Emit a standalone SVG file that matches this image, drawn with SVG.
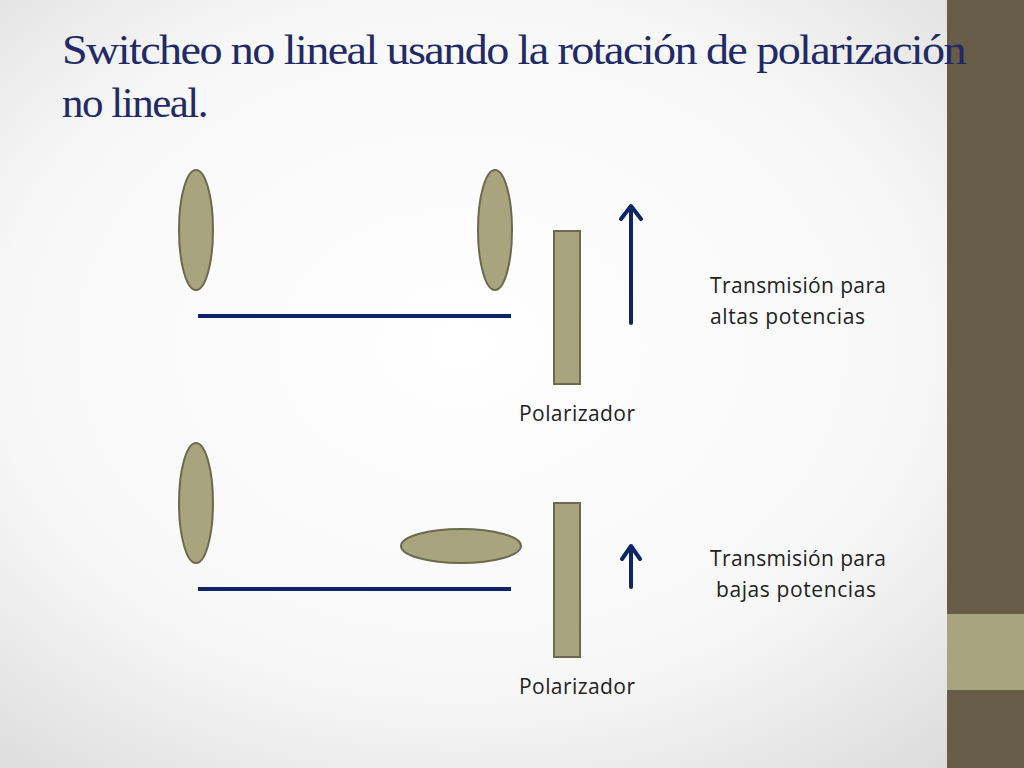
<svg xmlns="http://www.w3.org/2000/svg" width="1024" height="768" viewBox="0 0 1024 768">
<defs>
<radialGradient id="bg" cx="45%" cy="45%" r="75%">
<stop offset="0" stop-color="#ffffff"/><stop offset="0.6" stop-color="#f7f7f7"/><stop offset="1" stop-color="#d9d9d9"/>
</radialGradient>
<style>
.el{fill:#a8a57e;stroke:#6b6a4f;stroke-width:2}
.ln{stroke:#0f2466;stroke-width:4;fill:none}
.ar{stroke:#0f2466;stroke-width:4;fill:none;stroke-linecap:round;stroke-linejoin:round}
.t{font-family:"Open Sans","Liberation Sans",sans-serif;font-size:21px;fill:#222}
.title{font-family:"Liberation Serif",serif;font-size:43px;fill:#1f2a66;letter-spacing:-1.5px}
</style>
</defs>
<rect width="1024" height="768" fill="url(#bg)"/>
<rect x="947" y="0" width="77" height="768" fill="#665c47"/>
<rect x="947" y="614" width="77" height="76" fill="#a8a57e"/>
<text class="title" x="62" y="64" textLength="903" lengthAdjust="spacingAndGlyphs">Switcheo no lineal usando la rotación de polarización</text>
<text class="title" x="62" y="117">no lineal.</text>
<g id="top">
<ellipse class="el" cx="196" cy="230" rx="17" ry="60"/>
<ellipse class="el" cx="495" cy="230" rx="17" ry="60"/>
<rect class="el" x="554" y="231" width="26" height="153"/>
<text class="t" x="519" y="421" textLength="116">Polarizador</text>
<text class="t" x="710" y="293" textLength="176">Transmisión para</text>
<text class="t" x="710" y="324" textLength="155">altas potencias</text>
</g>
<g id="bottom">
<ellipse class="el" cx="196" cy="503" rx="17" ry="60"/>
<ellipse class="el" cx="461" cy="546" rx="60" ry="17"/>
<rect class="el" x="554" y="503" width="26" height="154"/>
<text class="t" x="519" y="694" textLength="116">Polarizador</text>
<text class="t" x="710" y="566" textLength="176">Transmisión para</text>
<text class="t" x="716" y="597" textLength="160">bajas potencias</text>
</g>
<g id="connectors">
<line class="ln" x1="198" y1="316" x2="511" y2="316"/>
<line class="ln" x1="198" y1="589" x2="511" y2="589"/>
<path class="ar" d="M631 323V207M621 219L631 206L641 219"/>
<path class="ar" d="M631 587V547M622 559L631 546L640 559"/>
</g>
</svg>
